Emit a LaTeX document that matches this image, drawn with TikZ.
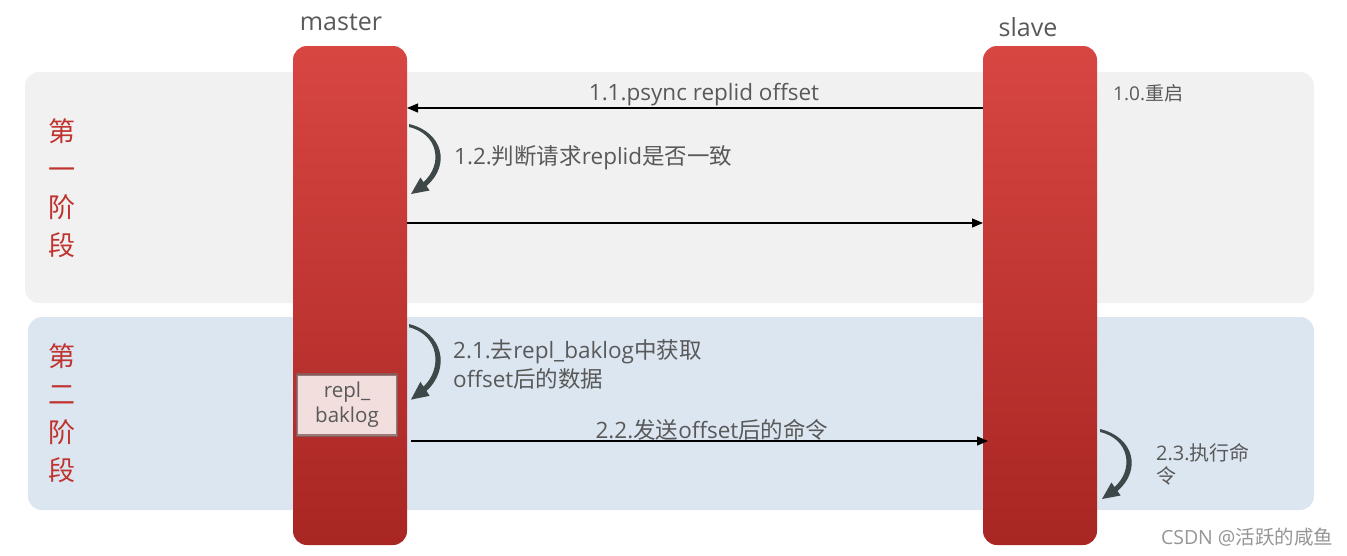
\documentclass[tikz,border=0pt]{standalone}
\usepackage{fontspec}
\setmainfont{Open Sans}
\newfontfamily\cjk{Noto Sans CJK SC}
\usetikzlibrary{arrows.meta}
\definecolor{bandgray}{RGB}{241,241,241}
\definecolor{bandblue}{RGB}{220,230,241}
\definecolor{bartop}{RGB}{216,70,66}
\definecolor{barbot}{RGB}{168,38,35}
\definecolor{txt}{RGB}{89,89,89}
\definecolor{phase}{RGB}{192,52,48}
\definecolor{curv}{RGB}{62,72,72}
\definecolor{boxfill}{RGB}{242,222,221}
\definecolor{boxedge}{RGB}{130,98,98}
\tikzset{
  band/.style={rounded corners=14pt, draw=none},
  lifebar/.style={rounded corners=14pt, minimum width=114pt, minimum height=499pt, top color=bartop, bottom color=barbot, draw=none, inner sep=0pt},
  lbl/.style={text=txt, font=\fontsize{22.5}{29}\selectfont, inner sep=0pt},
  small/.style={text=txt, font=\fontsize{19}{23}\selectfont, inner sep=0pt},
  phaselbl/.style={text=phase, font=\cjk\fontsize{27}{38}\selectfont, inner sep=0pt, align=center},
  msg/.style={line width=1.3pt, -{Triangle[length=11pt,width=9pt]}},
  loopfill/.style={fill=curv, draw=none},
  loopy/.pic={
    \fill[loopfill] (0,0) .. controls (34,8) and (42,41) .. (17.5,62) -- (20.6,66.5) -- (2,70)
      -- (11.4,53.5) -- (14.5,58) .. controls (34,41) and (30,10) .. (0,3) -- cycle;
  },
}
\begin{document}
\begin{tikzpicture}[x=1pt,y=-1pt]
\useasboundingbox (0,0) rectangle (1347,555);
\fill[white] (0,0) rectangle (1347,555);
% bands
\fill[bandgray, band] (25,72) rectangle (1314,303);
\fill[bandblue, band] (28,317) rectangle (1314,510);
% phase labels
\node[phaselbl] (p1) at (62,188) {第\\一\\阶\\段};
\node[phaselbl] (p2) at (62,413) {第\\二\\阶\\段};
% lifelines
\node[lifebar] (master) at (350,295.5) {};
\node[lifebar] (slave) at (1040,295.5) {};
\node[lbl, font=\fontsize{25}{30}\selectfont] (mlab) at (341,22) {master};
\node[lbl, font=\fontsize{25}{30}\selectfont] (slab) at (1028,27) {slave};
% repl_baklog box
\node[fill=boxfill, draw=boxedge, draw opacity=0.8, line width=2.5pt, minimum width=100pt, minimum height=61pt, align=center, text=txt, font=\fontsize{20.5}{25}\selectfont, inner sep=0pt] (buf) at (347,405) {repl\_\\baklog};
% 1.0
\node[small, anchor=west] (t10) at (1113,93) {1.0.{\cjk 重启}};
% 1.1
\coordinate (a1s) at (983,108);
\coordinate (a1e) at (407,108);
\draw[msg] (a1s) -- (a1e);
\node[lbl] (t11) at (704,95) {1.1.psync replid offset};
% 1.2 loop
\coordinate (l1a) at (409,124);
\pic at (l1a) {loopy};
\node[lbl, anchor=west] (t12) at (454,158) {1.2.{\cjk 判断请求}replid{\cjk 是否一致}};
% return arrow
\coordinate (a2s) at (407,223);
\coordinate (a2e) at (983,223);
\draw[msg] (a2s) -- (a2e);
% 2.1 loop
\coordinate (l2a) at (409,324);
\pic[yscale=1.08] at (l2a) {loopy};
\node[lbl, anchor=west, align=left] (t21) at (453,364.5) {2.1.{\cjk 去}repl\_baklog{\cjk 中获取}\\offset{\cjk 后的数据}};
% 2.2
\coordinate (a3s) at (411,441);
\coordinate (a3e) at (988,441);
\draw[msg] (a3s) -- (a3e);
\node[lbl] (t22) at (712,430) {2.2.{\cjk 发送}offset{\cjk 后的命令}};
% 2.3 loop
\coordinate (l3a) at (1100,429);
\pic at (l3a) {loopy};
\node[small, anchor=west, align=left, font=\fontsize{20}{23}\selectfont] (t23) at (1156,464.5) {2.3.{\cjk 执行命}\\{\cjk 令}};
% watermark
\node[text={rgb,255:red,150;green,150;blue,150}, font=\fontsize{19.5}{22}\selectfont, inner sep=0pt] (wm) at (1247,537) {CSDN @{\cjk 活跃的咸鱼}};
\end{tikzpicture}
\end{document}
